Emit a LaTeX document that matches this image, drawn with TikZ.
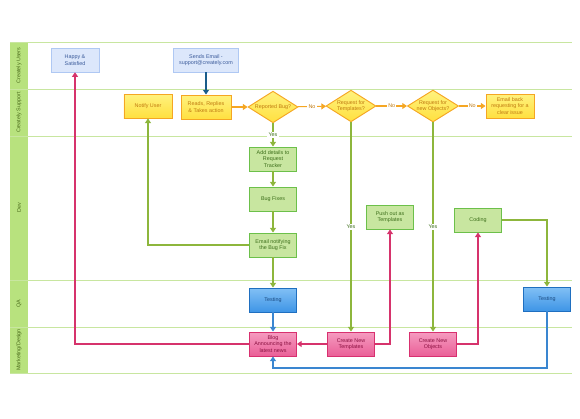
\documentclass[tikz,border=0pt]{standalone}
\usepackage{fontspec}
\setmainfont{Liberation Sans}
\usetikzlibrary{shapes.geometric, arrows.meta, positioning}
\definecolor{laneFill}{HTML}{B8E27E}
\definecolor{laneLine}{HTML}{C8E6A0}
\definecolor{laneText}{HTML}{4A6B1A}
\definecolor{usrFill}{HTML}{DCE7FB}
\definecolor{usrLine}{HTML}{AFC8F3}
\definecolor{usrText}{HTML}{3A5A9A}
\definecolor{supTop}{HTML}{FFF27E}
\definecolor{supBot}{HTML}{FFE040}
\definecolor{supLine}{HTML}{F5A623}
\definecolor{supText}{HTML}{C07A10}
\definecolor{devFill}{HTML}{C8E6A0}
\definecolor{devLine}{HTML}{6CC04A}
\definecolor{devText}{HTML}{3C6E1A}
\definecolor{qaTop}{HTML}{82C0F5}
\definecolor{qaBot}{HTML}{3E95E6}
\definecolor{qaLine}{HTML}{1F6FC0}
\definecolor{qaText}{HTML}{1A4A80}
\definecolor{mktTop}{HTML}{F59CC0}
\definecolor{mktBot}{HTML}{EA5F97}
\definecolor{mktLine}{HTML}{D8306F}
\definecolor{mktText}{HTML}{8A1040}
\definecolor{arrOrange}{HTML}{F5A623}
\definecolor{arrGreen}{HTML}{8DB63C}
\definecolor{arrBlue}{HTML}{3A86D0}
\definecolor{arrNavy}{HTML}{1A5C8A}
\definecolor{arrPink}{HTML}{D6336C}
\tikzset{
  tiny/.style = {font=\fontsize{4.6}{5.6}\selectfont},
  userbox/.style = {rectangle, tiny, draw=usrLine, fill=usrFill, text=usrText, align=center, minimum height=0.72cm, minimum width=1.44cm, inner sep=1pt},
  supbox/.style = {rectangle, tiny, draw=supLine, thick, top color=supTop, bottom color=supBot, text=supText, align=center, minimum height=0.72cm, minimum width=1.44cm, inner sep=1pt},
  choice/.style = {diamond, tiny, draw=supLine, thick, top color=supTop, bottom color=supBot, text=supText, align=center, minimum height=0.95cm, minimum width=1.5cm, inner sep=0pt, aspect=1.6},
  devbox/.style = {rectangle, tiny, draw=devLine, thick, fill=devFill, text=devText, align=center, minimum height=0.72cm, minimum width=1.41cm, inner sep=1pt},
  qabox/.style = {rectangle, tiny, draw=qaLine, thick, top color=qaTop, bottom color=qaBot, text=qaText, align=center, minimum height=0.72cm, minimum width=1.41cm, inner sep=1pt},
  mktbox/.style = {rectangle, tiny, draw=mktLine, thick, top color=mktTop, bottom color=mktBot, text=mktText, align=center, minimum height=0.72cm, minimum width=1.41cm, inner sep=1pt},
  lanename/.style = {tiny, text=laneText, rotate=90},
  laneline/.style = {draw=laneLine, thick},
  nolabel/.style = {tiny, fill=white, text=supText, inner sep=1pt},
  yeslabel/.style = {tiny, fill=white, text=devText, inner sep=1pt},
  tip/.style = {-{Triangle[length=1.4mm, width=1.8mm]}, line width=0.9pt},
  orangeline/.style = {tip, draw=arrOrange},
  greenline/.style = {tip, draw=arrGreen},
  blueline/.style = {tip, draw=arrBlue},
  navyline/.style = {tip, draw=arrNavy},
  pinkline/.style = {tip, draw=arrPink}
}

\begin{document}
\begin{tikzpicture}[x=0.03cm, y=-0.03cm]
\useasboundingbox (0,0) rectangle (580,419);

% Lanes
\fill[laneFill] (10,42) rectangle (28,373);
\foreach \ly in {42, 89, 136, 280, 327, 373}
  \draw[laneline] (10,\ly) -- (572,\ly);
\node[lanename] (laneusers) at (19,65.5) {Creately Users};
\node[lanename] (lanesupport) at (19,112.5) {Creately Support};
\node[lanename] (lanedev) at (19,208) {Dev};
\node[lanename] (laneqa) at (19,303.5) {QA};
\node[lanename] (lanemkt) at (19,350) {Marketing/Design};

% Creately users
\node[userbox] (happy) at (75,60) {Happy \&\\ Satisfied};
\node[userbox, minimum width=1.95cm] (sends) at (206,60) {Sends Email -\\ support@creately.com};

% Creately support
\node[supbox] (notify) at (148,106) {Notify User};
\node[supbox, minimum width=1.5cm] (reads) at (206,107) {Reads, Replies\\ \& Takes action};
\node[choice] (rbug) at (273,107) {Reported Bug?};
\node[choice] (rtmpl) at (351,106) {Request for\\ Templates?};
\node[choice] (robj) at (433,106) {Request for\\ new Objects?};
\node[supbox] (emailback) at (510,106) {Email back\\ requesting for a\\ clear issue};

% Dev
\node[devbox] (details) at (273,159) {Add details to\\ Request\\ Tracker};
\node[devbox] (bugfix) at (273,199) {Bug Fixes};
\node[devbox] (emailfix) at (273,245) {Email notifying\\ the Bug Fix};
\node[devbox] (pushout) at (390,217) {Push out as\\ Templates};
\node[devbox] (coding) at (478,220) {Coding};

% QA
\node[qabox] (testleft) at (273,300) {Testing};
\node[qabox] (testright) at (547,299) {Testing};

% Marketing/Design
\node[mktbox] (blog) at (273,344) {Blog\\ Announcing the\\ latest news};
\node[mktbox] (newtmpl) at (351,344) {Create New\\ Templates};
\node[mktbox] (newobj) at (433,344) {Create New\\ Objects};
\coordinate (loopback) at (273,368);

% Arrows
\draw[navyline] (sends) -- (reads);
\draw[orangeline] (reads) -- (rbug);
\draw[orangeline] (rbug) -- node[nolabel] {No} (rtmpl);
\draw[orangeline] (rtmpl) -- node[nolabel] {No} (robj);
\draw[orangeline] (robj) -- node[nolabel] {No} (emailback);

\draw[greenline] (rbug) -- node[yeslabel] {Yes} (details);
\draw[greenline] (details) -- (bugfix);
\draw[greenline] (bugfix) -- (emailfix);
\draw[greenline] (emailfix) -| (notify);
\draw[greenline] (emailfix) -- (testleft);
\draw[greenline] (rtmpl) -- node[yeslabel] {Yes} (newtmpl);
\draw[greenline] (robj) -- node[yeslabel] {Yes} (newobj);
\draw[greenline] (coding) -| (testright);

\draw[blueline] (testleft) -- (blog);
\draw[blueline] (testright) |- (loopback) -- (blog);

\draw[pinkline] (blog) -| (happy);
\draw[pinkline] (newtmpl) -- (blog);
\draw[pinkline] (newtmpl) -| (pushout);
\draw[pinkline] (newobj) -| (coding);

\end{tikzpicture}
\end{document}
